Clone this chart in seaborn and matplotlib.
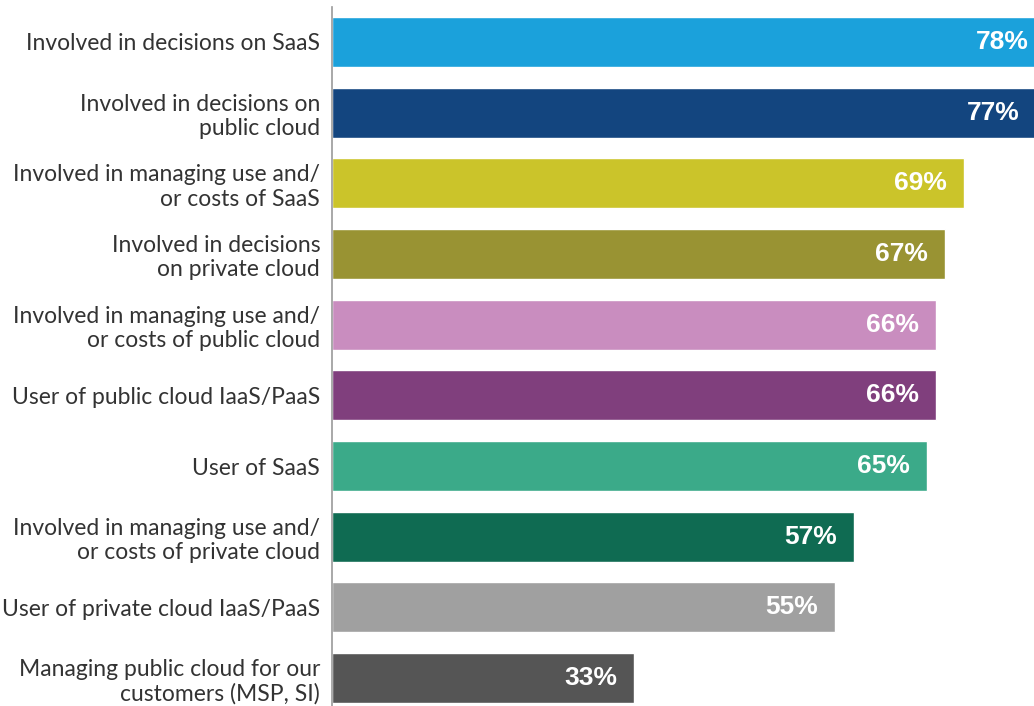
import matplotlib
matplotlib.use("Agg")
import matplotlib.pyplot as plt
import seaborn as sns
import pandas as pd

categories = [
    "Involved in decisions on SaaS",
    "Involved in decisions on\npublic cloud",
    "Involved in managing use and/\nor costs of SaaS",
    "Involved in decisions\non private cloud",
    "Involved in managing use and/\nor costs of public cloud",
    "User of public cloud IaaS/PaaS",
    "User of SaaS",
    "Involved in managing use and/\nor costs of private cloud",
    "User of private cloud IaaS/PaaS",
    "Managing public cloud for our\ncustomers (MSP, SI)",
]
values = [78, 77, 69, 67, 66, 66, 65, 57, 55, 33]
colors = ["#1BA1DB", "#13457F", "#CBC42A", "#999333", "#C98DBF",
          "#803F7D", "#3BAA89", "#0F6B52", "#A0A0A0", "#555555"]

df = pd.DataFrame({"cat": categories, "val": values})

sns.set_theme(style="white")
plt.rcParams["font.family"] = ["Lato", "DejaVu Sans"]

fig = plt.figure(figsize=(10.34, 7.06), dpi=100)
ax = fig.add_axes([332 / 1034, 0, 1 - 332 / 1034, 1 - 7 / 706])

sns.barplot(data=df, x="val", y="cat", hue="cat", palette=colors,
            order=categories, hue_order=categories, width=0.71,
            legend=False, ax=ax, saturation=1)

ax.set_xlim(0, 76.7)
ax.set_ylim(9.396, -0.495)
ax.set_xlabel("")
ax.set_ylabel("")
ax.set_xticks([])
for s in ["top", "right", "bottom"]:
    ax.spines[s].set_visible(False)
ax.spines["left"].set_color("#999999")
ax.spines["left"].set_linewidth(1.2)

ax.tick_params(axis="y", length=0, pad=8.5)
for lab in ax.get_yticklabels():
    lab.set_fontsize(16.5)
    lab.set_color("#333333")
    lab.set_linespacing(1.2)
    lab.set_horizontalalignment("right")
    lab.set_multialignment("right")

for i, v in enumerate(values):
    ax.text(v - 1.85, i, f"{v}%", ha="right", va="center",
            color="white", fontsize=19, fontweight="bold",
            family=["Liberation Sans", "DejaVu Sans"])

fig.savefig("out.png", dpi=100)
